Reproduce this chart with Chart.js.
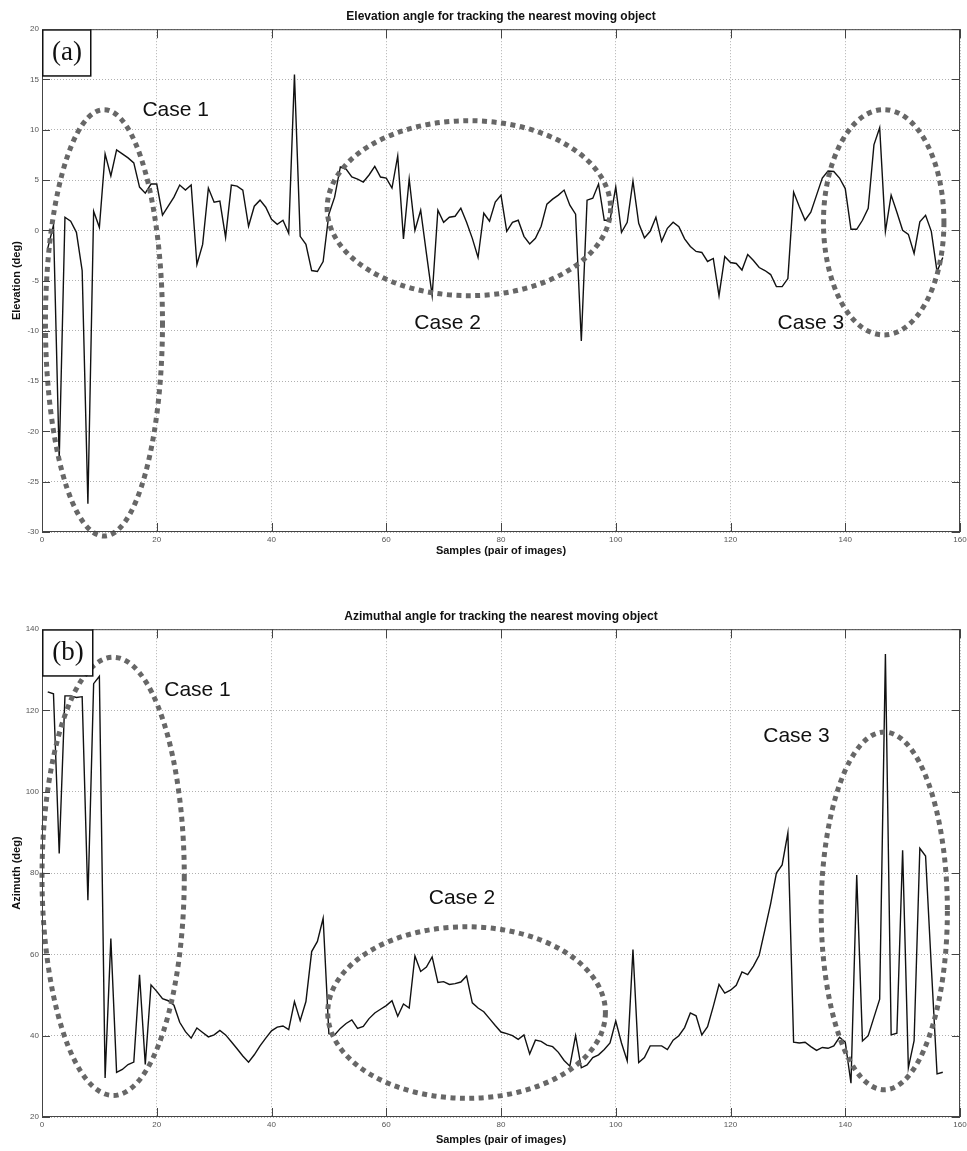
<!DOCTYPE html>
<html>
<head>
<meta charset="utf-8">
<title>Elevation / Azimuth tracking</title>
<script src="https://cdn.jsdelivr.net/npm/chart.js@4.4.0/dist/chart.umd.min.js"></script>
<style>
  html, body { margin: 0; padding: 0; background: #fff; }
  body { width: 967px; height: 1151px; position: relative; overflow: hidden; }
  canvas { position: absolute; left: 0; }
  #elevChart { top: 0; }
  #azimChart { top: 600px; }
</style>
</head>
<body>
<canvas id="elevChart" width="967" height="558"></canvas>
<canvas id="azimChart" width="967" height="547"></canvas>
<script>
// ---------- data ----------
const samples = Array.from({ length: 157 }, (_, k) => k + 1);   // pair-of-images index

const elevation = [
  -1.8, 0.5, -22.8, 1.3, 0.9, -0.2, -4.0, -27.2, 1.9, 0.3,
  7.6, 5.4, 8.0, 7.6, 7.2, 6.7, 4.3, 3.7, 4.6, 4.6,
  1.5, 2.4, 3.3, 4.5, 4.0, 4.5, -3.4, -1.4, 4.2, 2.8,
  2.9, -0.7, 4.5, 4.4, 4.0, 0.4, 2.4, 3.0, 2.3, 1.1,
  0.6, 1.0, -0.3, 15.5, -0.6, -1.4, -4.0, -4.1, -3.1, 1.6,
  3.3, 6.3, 6.1, 5.3, 5.1, 4.8, 5.5, 6.35, 5.3, 5.2,
  4.2, 7.4, -0.85, 5.1, 0.0, 2.0, -2.3, -6.5, 2.0, 0.8,
  1.3, 1.4, 2.2, 0.8, -0.8, -2.7, 1.7, 0.9, 2.8, 3.5,
  -0.1, 0.8, 1.0, -0.6, -1.35, -0.8, 0.4, 2.6, 3.1, 3.5,
  4.0, 2.5, 1.6, -11.0, 3.0, 3.2, 4.6, 1.0, 1.0, 4.3,
  -0.2, 0.8, 4.9, 0.7, -0.75, -0.1, 1.3, -1.1, 0.2, 0.8,
  0.35, -0.85, -1.6, -2.1, -2.2, -3.1, -2.8, -6.5, -2.6, -3.2,
  -3.3, -3.95, -2.4, -3.0, -3.7, -4.0, -4.4, -5.6, -5.6, -4.8,
  3.8, 2.35, 1.0, 1.8, 3.5, 5.2, 5.9, 5.85, 5.2, 4.15,
  0.1, 0.1, 1.0, 2.2, 8.5, 10.2, -0.1, 3.5, 1.8, 0.0,
  -0.4, -2.3, 0.85, 1.5, -0.1, -4.1, -2.7
];

const azimuth = [
  124.6, 124.1, 84.8, 123.6, 123.6, 123.2, 123.4, 73.3, 126.6, 128.4,
  29.6, 63.9, 31.0, 31.7, 32.9, 33.5, 55.0, 32.9, 52.5, 50.9,
  49.1, 48.6, 47.5, 43.3, 41.0, 39.4, 41.9, 40.8, 39.7, 40.2,
  41.3, 40.2, 38.5, 36.8, 35.0, 33.5, 35.3, 37.5, 39.4, 41.2,
  42.1, 42.4, 41.5, 48.4, 43.7, 48.4, 60.7, 63.2, 68.9, 40.5,
  40.2, 41.8, 43.0, 43.9, 41.8, 42.3, 44.2, 45.6, 46.5, 47.4,
  48.6, 44.8, 47.8, 46.8, 59.6, 55.8, 56.9, 59.4, 53.1, 53.3,
  52.6, 52.8, 53.2, 54.7, 48.1, 46.8, 45.9, 44.2, 42.5, 40.9,
  40.5, 40.0, 39.1, 40.2, 35.5, 38.9, 38.6, 37.7, 37.3, 35.9,
  33.9, 32.5, 40.0, 32.1, 32.8, 34.6, 35.3, 36.6, 38.2, 43.6,
  38.2, 33.8, 61.2, 33.4, 34.6, 37.5, 37.5, 37.5, 36.6, 38.9,
  40.0, 42.0, 45.6, 44.9, 40.2, 42.2, 47.2, 52.6, 50.5, 51.2,
  52.4, 55.7, 55.0, 57.1, 59.8, 66.1, 72.5, 80.0, 82.0, 89.9,
  38.4, 38.2, 38.4, 37.3, 36.4, 37.1, 36.9, 37.5, 39.6, 38.4,
  28.3, 79.5, 38.7, 40.0, 44.5, 49.0, 133.9, 40.2, 40.6, 85.6,
  32.1, 38.8, 86.1, 84.2, 57.0, 30.6, 31.0
];

// hand-drawn "case" rings, in data units (sample, deg)
const elevCases = [
  { label: 'Case 1', cx: 10.8, cy: -9.2, rx: 10.2, ry: 21.2, tx: 23.3, ty: 11.9 },
  { label: 'Case 2', cx: 74.4, cy: 2.2, rx: 24.7, ry: 8.7, tx: 70.7, ty: -9.2 },
  { label: 'Case 3', cx: 146.7, cy: 0.8, rx: 10.5, ry: 11.2, tx: 134.0, ty: -9.2 }
];
const azimCases = [
  { label: 'Case 1', cx: 12.4, cy: 79.2, rx: 12.4, ry: 53.9, tx: 27.1, ty: 125.0 },
  { label: 'Case 2', cx: 74.0, cy: 45.7, rx: 24.2, ry: 21.1, tx: 73.2, ty: 73.8 },
  { label: 'Case 3', cx: 146.8, cy: 70.7, rx: 11.0, ry: 44.0, tx: 131.5, ty: 113.7 }
];

// ---------- decorations: MATLAB-like box, inner ticks, rings, panel tag ----------
const decor = {
  id: 'decor',
  afterDatasetsDraw(chart, args, opts) {
    const { ctx, chartArea: a, scales: { x, y } } = chart;
    ctx.save();

    // rings
    ctx.strokeStyle = '#676767';
    ctx.lineWidth = 5;
    ctx.setLineDash([5, 4.5]);
    opts.cases.forEach(c => {
      const cx = x.getPixelForValue(c.cx), cy = y.getPixelForValue(c.cy);
      const rx = Math.abs(x.getPixelForValue(c.cx + c.rx) - cx);
      const ry = Math.abs(y.getPixelForValue(c.cy + c.ry) - cy);
      ctx.beginPath();
      ctx.ellipse(cx, cy, rx, ry, 0, 0, Math.PI * 2);
      ctx.stroke();
    });
    ctx.setLineDash([]);

    // case labels
    ctx.fillStyle = '#111';
    ctx.font = '21px "Liberation Sans", Arial, sans-serif';
    ctx.textAlign = 'center';
    ctx.textBaseline = 'middle';
    opts.cases.forEach(c => {
      ctx.fillText(c.label, x.getPixelForValue(c.tx), y.getPixelForValue(c.ty));
    });

    // box + inward ticks
    ctx.strokeStyle = '#444';
    ctx.lineWidth = 1;
    ctx.strokeRect(a.left + 0.5, a.top + 0.5, a.width - 1, a.height - 1);
    ctx.beginPath();
    x.ticks.forEach(t => {
      const px = Math.round(x.getPixelForValue(t.value)) + 0.5;
      ctx.moveTo(px, a.bottom); ctx.lineTo(px, a.bottom - 9);
      ctx.moveTo(px, a.top); ctx.lineTo(px, a.top + 9);
    });
    y.ticks.forEach(t => {
      const py = Math.round(y.getPixelForValue(t.value)) + 0.5;
      ctx.moveTo(a.left, py); ctx.lineTo(a.left + 8, py);
      ctx.moveTo(a.right, py); ctx.lineTo(a.right - 8, py);
    });
    ctx.stroke();

    // panel tag
    const w = opts.tagW, h = opts.tagH;
    ctx.fillStyle = '#fff';
    ctx.fillRect(a.left, a.top, w, h);
    ctx.strokeStyle = '#111';
    ctx.lineWidth = 1.5;
    ctx.strokeRect(a.left + 0.75, a.top + 0.75, w, h);
    ctx.fillStyle = '#111';
    ctx.font = '27px "Liberation Serif", "Times New Roman", serif';
    ctx.fillText(opts.tag, a.left + w / 2 + 1, a.top + h / 2 + 1);
    ctx.restore();
  }
};

const FONT = '"Liberation Sans", Arial, sans-serif';

function makeChart(canvasId, values, title, yTitle, yMin, yMax, yStep, xAxisHeight, cases, tag, tagW) {
  return new Chart(document.getElementById(canvasId), {
    type: 'line',
    data: {
      labels: samples,
      datasets: [{
        data: samples.map((s, k) => ({ x: s, y: values[k] })),
        borderColor: '#111',
        borderWidth: 1.4,
        pointRadius: 0,
        tension: 0,
        fill: false
      }]
    },
    options: {
      responsive: false,
      animation: false,
      devicePixelRatio: 1,
      layout: { padding: { left: 0, right: 7, top: 0, bottom: 0 } },
      plugins: {
        legend: { display: false },
        tooltip: { enabled: false },
        title: {
          display: true,
          fullSize: false,
          text: title,
          color: '#111',
          font: { family: FONT, size: 12, weight: 'bold' },
          padding: { top: 9, bottom: 5.8 }
        },
        decor: { cases: cases, tag: tag, tagW: tagW, tagH: 46 }
      },
      scales: {
        x: {
          type: 'linear',
          min: 0, max: 160,
          ticks: { stepSize: 20, padding: 3, color: '#555', maxRotation: 0,
                   font: { family: FONT, size: 8 } },
          grid: { color: '#b0b0b0', lineWidth: 1, drawTicks: false },
          border: { display: false, dash: [1, 2] },
          title: { display: true, text: 'Samples (pair of images)', color: '#111',
                   font: { family: FONT, size: 11, weight: 'bold' }, padding: { top: 0, bottom: 0 } },
          afterFit: s => { s.height = xAxisHeight; s.paddingLeft = 0; s.paddingRight = 0; }
        },
        y: {
          min: yMin, max: yMax,
          ticks: { stepSize: yStep, padding: 3, color: '#555',
                   font: { family: FONT, size: 8 } },
          grid: { color: '#b0b0b0', lineWidth: 1, drawTicks: false },
          border: { display: false, dash: [1, 2] },
          title: { display: true, text: yTitle, color: '#111',
                   font: { family: FONT, size: 11, weight: 'bold' }, padding: { top: 10.4, bottom: 0 } },
          afterFit: s => { s.width = 42; s.paddingTop = 0; s.paddingBottom = 0; }
        }
      }
    },
    plugins: [decor]
  });
}

makeChart('elevChart', elevation, 'Elevation angle for tracking the nearest moving object',
  'Elevation (deg)', -30, 20, 5, 26, elevCases, '(a)', 48);
makeChart('azimChart', azimuth, 'Azimuthal angle for tracking the nearest moving object',
  'Azimuth (deg)', 20, 140, 20, 30, azimCases, '(b)', 50);
</script>
</body>
</html>
